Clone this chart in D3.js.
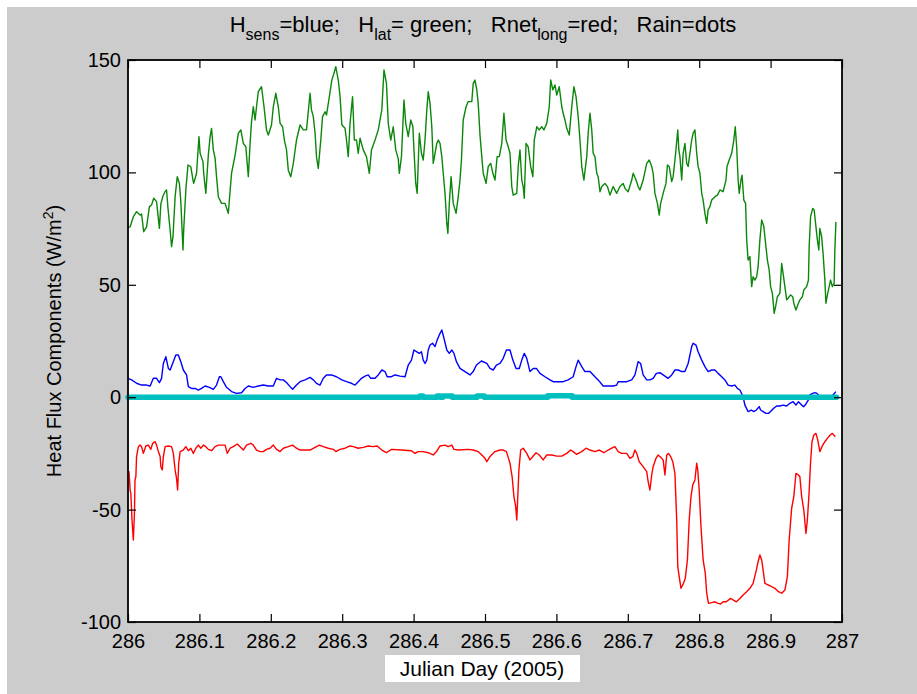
<!DOCTYPE html>
<html><head><meta charset="utf-8">
<script src="https://cdn.jsdelivr.net/npm/d3@7"></script>
<style>
html,body{margin:0;padding:0;background:#fff;}
svg{display:block;}
text{font-family:"Liberation Sans",Arial,Helvetica,sans-serif;fill:#000;}
</style></head><body>
<svg id="chart" width="917" height="694"></svg>
<script>
const xTicks = [286, 286.1, 286.2, 286.3, 286.4, 286.5, 286.6, 286.7, 286.8, 286.9, 287];
const yTicks = [-100, -50, 0, 50, 100, 150];

// H_lat (green)  [Julian day, W/m^2]
const hlat = [[286.000,75.5],[286.003,75.8],[286.0075,80.3],[286.012,82.5],[286.017,81],[286.019,81.5],[286.022,73.6],[286.026,75.8],[286.030,84.8],[286.033,85.5],[286.036,88.5],[286.040,87],[286.044,75.1],[286.046,86],[286.049,89.5],[286.052,91.5],[286.054,92.2],[286.056,84],[286.059,74.4],[286.061,67],[286.063,71.4],[286.066,89.2],[286.069,98.1],[286.072,95.1],[286.074,87],[286.077,65.5],[286.078,74.4],[286.081,92.2],[286.084,103.3],[286.088,102.5],[286.091,96.6],[286.092,95.1],[286.096,99.6],[286.0994,115.9],[286.101,108.5],[286.105,104.8],[286.106,99.6],[286.109,90.7],[286.1125,107.7],[286.115,115.9],[286.117,119.6],[286.1195,110],[286.122,106.3],[286.124,98.1],[286.1265,89.2],[286.131,86.2],[286.136,86.2],[286.1405,81.8],[286.145,99.6],[286.150,107.7],[286.1545,117.4],[286.158,118.9],[286.1615,112.9],[286.165,111.4],[286.1685,98.1],[286.171,112.9],[286.173,122.6],[286.1755,129.2],[286.178,123.3],[286.180,129.2],[286.1825,135.9],[286.187,138.1],[286.1905,129.2],[286.194,118.9],[286.1965,116.6],[286.201,121.1],[286.2035,129.2],[286.207,135.2],[286.2105,129.2],[286.213,121.8],[286.2165,120.3],[286.219,114.4],[286.222,110],[286.2245,101],[286.228,98.1],[286.2315,104],[286.236,114.4],[286.241,121.1],[286.2455,118.9],[286.250,118.9],[286.255,135.2],[286.257,127.8],[286.2595,124.8],[286.262,117.4],[286.264,107],[286.2665,101.8],[286.270,114.4],[286.2725,124.8],[286.276,127],[286.278,125.5],[286.282,133.7],[286.2855,141.1],[286.2885,144.1],[286.291,147],[286.2945,141.1],[286.297,133.7],[286.2995,121.1],[286.304,119.6],[286.306,114.4],[286.3085,107],[286.311,121.8],[286.3145,133.7],[286.317,114.4],[286.320,114.4],[286.3225,108.5],[286.325,115.2],[286.3295,110],[286.334,107],[286.338,99.6],[286.341,110],[286.346,114.4],[286.3505,118.9],[286.3555,127.8],[286.3585,145.6],[286.362,139.6],[286.3645,121.8],[286.368,114.4],[286.3715,120.3],[286.375,110],[286.3785,106],[286.380,99.6],[286.383,107],[286.3865,132.2],[286.389,121.8],[286.3925,115.9],[286.396,123.3],[286.399,120.3],[286.4005,110],[286.403,95.1],[286.405,90.7],[286.408,117.4],[286.411,108.5],[286.4135,105.5],[286.416,114.4],[286.4185,127.8],[286.4205,135.9],[286.423,130.7],[286.4255,120.3],[286.4275,104],[286.430,108.5],[286.4325,112.9],[286.4345,114.4],[286.437,112.9],[286.4395,107],[286.4415,99.6],[286.444,90.7],[286.4465,77.3],[286.448,72.9],[286.450,86.2],[286.4525,98.1],[286.4555,86.2],[286.4595,81.8],[286.4625,89.2],[286.465,96.6],[286.467,105.5],[286.4695,123.3],[286.4735,129.2],[286.4765,131.5],[286.4815,131.5],[286.4835,139.6],[286.486,141.1],[286.4885,136.7],[286.4905,130.7],[286.493,116.6],[286.4955,107],[286.4975,99.6],[286.5015,95.1],[286.5045,102.6],[286.508,104],[286.511,99.6],[286.514,96.6],[286.517,107],[286.520,107],[286.5235,112.9],[286.5265,126.3],[286.5295,114.4],[286.5325,111.4],[286.535,108.5],[286.5375,93.7],[286.5395,89.9],[286.5445,90.7],[286.5465,102.6],[286.549,110],[286.5515,96.6],[286.5535,93.7],[286.555,88.5],[286.5575,112.9],[286.5605,111.4],[286.564,102.6],[286.567,98.1],[286.569,114.4],[286.5725,120.3],[286.576,118.9],[286.5795,120.3],[286.5825,118.9],[286.5865,121.8],[286.590,129.2],[286.592,141.1],[286.595,136.7],[286.598,138.9],[286.6005,134.4],[286.604,138.1],[286.6075,129.2],[286.6095,126.3],[286.612,123.3],[286.6145,119.6],[286.618,116.6],[286.6215,129.2],[286.6245,138.1],[286.6275,133.7],[286.6305,124.8],[286.633,114.4],[286.6355,102.6],[286.6385,96.6],[286.6425,107],[286.6445,117.4],[286.647,126.3],[286.6495,118.9],[286.6515,108.5],[286.654,107],[286.6565,99.6],[286.6585,98.1],[286.661,91.4],[286.6635,93.7],[286.668,95.1],[286.6715,93.7],[286.675,89.9],[286.6795,93.7],[286.6845,90.7],[286.689,93.7],[286.6935,95.1],[286.696,92.9],[286.7005,91.4],[286.7055,96.6],[286.7075,99.6],[286.7115,96.6],[286.7145,93.7],[286.717,92.2],[286.7215,96.6],[286.7265,104],[286.730,105.5],[286.7335,102.6],[286.7355,99.6],[286.738,90.7],[286.7415,86.2],[286.744,81],[286.746,86.2],[286.7495,90.7],[286.7535,95.1],[286.7555,103.3],[286.758,102.6],[286.7615,95.9],[286.7635,98.1],[286.767,108.5],[286.770,118.9],[286.7715,110],[286.773,107],[286.7755,96.6],[286.7775,108.5],[286.780,112.9],[286.7825,104],[286.7845,102.6],[286.787,108.5],[286.7895,114.4],[286.7915,117.4],[286.794,118.9],[286.7965,108.5],[286.7985,102.6],[286.801,99.6],[286.8035,90.7],[286.8055,87.7],[286.808,81.8],[286.8105,77.3],[286.8125,83.3],[286.815,84.8],[286.8175,87.7],[286.822,89.2],[286.8255,89.9],[286.829,92.2],[286.8335,91.4],[286.8375,96.6],[286.839,102.6],[286.842,105.5],[286.8455,108.5],[286.8485,114.4],[286.8505,120.3],[286.8525,111.4],[286.8545,96.6],[286.856,90.7],[286.8585,96.6],[286.860,98.8],[286.8625,87.7],[286.865,86.2],[286.8665,70],[286.8685,61],[286.871,62.5],[286.8735,49.2],[286.8755,53.6],[286.878,52.1],[286.8805,53.6],[286.8825,58.1],[286.885,70],[286.8875,78.8],[286.8905,75.9],[286.8935,66.9],[286.8955,61],[286.898,56.6],[286.900,49.2],[286.9025,46.2],[286.905,37.3],[286.907,40.3],[286.9095,44.7],[286.913,46.2],[286.9155,59.5],[286.9175,55.1],[286.920,49.2],[286.9225,43.3],[286.9245,44],[286.928,45.5],[286.931,44.7],[286.9325,41.8],[286.9355,38.8],[286.939,41.8],[286.941,43.3],[286.9445,44.7],[286.9465,47.7],[286.9505,49.2],[286.953,52.1],[286.954,66.9],[286.956,80.3],[286.959,84],[286.961,83.3],[286.963,77.3],[286.9655,70],[286.9675,65.5],[286.969,75.1],[286.9715,71.4],[286.9735,64],[286.976,52.1],[286.9775,41.8],[286.980,46.2],[286.982,49.2],[286.984,52.1],[286.9865,49.2],[286.989,50.7],[286.990,65.7],[286.9915,78]];

// H_sens (blue)
const hsens = [[286.000,8.4],[286.005,7.7],[286.012,6.2],[286.019,5.4],[286.026,5.4],[286.031,5],[286.0355,8.4],[286.040,8.4],[286.044,6.5],[286.047,8.4],[286.0495,15],[286.053,18],[286.0565,12.8],[286.059,12.1],[286.0625,15],[286.067,18.8],[286.0705,18.8],[286.074,15.8],[286.0775,12.1],[286.082,9.9],[286.0845,4.7],[286.089,3.9],[286.094,3.9],[286.0985,3.2],[286.103,3.9],[286.108,5],[286.114,4.4],[286.1195,3.5],[286.124,5.4],[286.128,9.1],[286.130,9.1],[286.1335,6.9],[286.138,4.4],[286.145,2.5],[286.152,1.7],[286.159,2],[286.164,3.9],[286.1685,5],[286.1755,4.4],[286.1825,5],[286.1895,5.4],[286.1965,5],[286.2035,5],[286.208,8.4],[286.213,7.7],[286.2175,7.7],[286.222,6.5],[286.227,4.7],[286.2305,3.5],[286.236,5.4],[286.241,6.9],[286.248,7.7],[286.255,8.8],[286.2595,7.7],[286.264,6.2],[286.269,5.4],[286.2735,8.4],[286.278,9.9],[286.285,9.9],[286.292,9.1],[286.2995,7.7],[286.306,6.9],[286.313,6.2],[286.318,5.4],[286.3225,6.9],[286.327,8.4],[286.332,9.4],[286.3365,9.9],[286.340,8.4],[286.346,8.4],[286.3505,9.9],[286.3555,12.1],[286.360,11.4],[286.363,9.1],[286.369,9.1],[286.374,9.9],[286.381,9.4],[286.388,9.1],[286.3925,14.3],[286.397,16.5],[286.4005,21],[286.4045,20.2],[286.408,19.5],[286.411,20.2],[286.4135,16.5],[286.416,15],[286.4185,16.5],[286.4205,21],[286.423,23.2],[286.4265,24],[286.430,22.5],[286.433,25.4],[286.436,27.7],[286.4395,29.9],[286.442,26.9],[286.4465,21],[286.450,19.5],[286.4535,21],[286.4565,19.5],[286.460,15.8],[286.465,12.8],[286.472,11.4],[286.479,9.9],[286.4835,11.4],[286.488,14.3],[286.495,16.1],[286.5025,15],[286.507,12.8],[286.5115,12.1],[286.516,14.3],[286.521,15],[286.5255,17.3],[286.530,21],[286.535,21],[286.539,16.5],[286.5435,12.8],[286.548,12.8],[286.5515,16.5],[286.555,19.5],[286.5585,17.3],[286.563,11.4],[286.5675,12.8],[286.572,12.8],[286.577,10.6],[286.584,9.1],[286.591,7.7],[286.5955,6.9],[286.6025,6.9],[286.6095,6.9],[286.6165,7.7],[286.6235,9.1],[286.6275,13.6],[286.6305,16.5],[286.6355,13.6],[286.640,11.4],[286.647,11.4],[286.654,9.1],[286.6585,7.7],[286.6655,5],[286.6725,5],[286.6795,5],[286.6845,5.4],[286.6865,6.9],[286.6915,6.9],[286.6985,6.9],[286.7055,7.7],[286.710,9.9],[286.7145,15.8],[286.718,15],[286.7215,9.9],[286.7265,7.7],[286.731,7.7],[286.7355,8.4],[286.740,10.6],[286.745,10.9],[286.7495,9.9],[286.7565,8.4],[286.7615,9.9],[286.766,12.1],[286.7705,12.1],[286.7755,11.4],[286.780,11.4],[286.7845,15],[286.7895,22.5],[286.7915,24],[286.7955,23.2],[286.7985,20.2],[286.8035,16.5],[286.808,13.6],[286.8125,11.4],[286.8175,12.1],[286.822,12.1],[286.8265,10.6],[286.8315,9.1],[286.836,7.7],[286.8405,5.4],[286.8455,5],[286.850,5.4],[286.8535,3.9],[286.857,3.2],[286.8615,0.2],[286.864,-3.5],[286.8685,-6.4],[286.873,-5.7],[286.8765,-6.4],[286.880,-5.7],[286.884,-4.2],[286.886,-5.7],[286.8895,-6.4],[286.8935,-7.2],[286.897,-7.2],[286.900,-6.4],[286.904,-5],[286.9085,-3.9],[286.913,-3.9],[286.9175,-3.5],[286.9225,-3.9],[286.927,-2.7],[286.9315,-2],[286.9355,-3.5],[286.939,-2],[286.9435,-3.5],[286.9465,-4.2],[286.9495,-3],[286.953,-1.2],[286.955,1],[286.959,1.7],[286.962,2],[286.965,1.7],[286.969,0.2],[286.976,0.2],[286.983,0.2],[286.9875,1],[286.9915,2.5]];

// Rnet_long (red)
const rnetLong = [[286.000,-33.9],[286.0014,-33.1],[286.003,-41.3],[286.004,-42.8],[286.0056,-54.6],[286.0075,-63.5],[286.009,-51.7],[286.0098,-36.8],[286.011,-35.4],[286.012,-26.4],[286.0145,-22],[286.017,-21.3],[286.019,-22],[286.0215,-25],[286.025,-21.7],[286.0285,-21.3],[286.032,-23.2],[286.0345,-20.5],[286.038,-19.8],[286.040,-21.3],[286.0425,-24.2],[286.045,-26.4],[286.046,-30.9],[286.048,-32.4],[286.0495,-26.4],[286.052,-22],[286.0565,-21.7],[286.061,-22],[286.0635,-25],[286.066,-32.4],[286.068,-36.1],[286.0695,-41.3],[286.071,-29.4],[286.073,-24.2],[286.0775,-23.5],[286.081,-22],[286.0845,-23.8],[286.088,-22.7],[286.0915,-25],[286.095,-22.7],[286.0985,-21.3],[286.102,-22.7],[286.1055,-21.3],[286.109,-22],[286.1125,-23.2],[286.117,-23.8],[286.122,-22],[286.1265,-21.3],[286.136,-21.3],[286.139,-25],[286.143,-22.7],[286.1475,-22],[286.153,-20.8],[286.157,-22],[286.1615,-23.5],[286.166,-21.3],[286.172,-20.5],[286.1755,-21.3],[286.180,-23.5],[286.185,-24.2],[286.1895,-24.2],[286.194,-23.2],[286.199,-22.7],[286.2035,-21.3],[286.208,-23.2],[286.213,-24.2],[286.2175,-22.7],[286.2245,-22],[286.2305,-21.3],[286.236,-22.7],[286.241,-23.5],[286.255,-23.5],[286.262,-22.3],[286.268,-21.3],[286.2735,-22],[286.2805,-22.7],[286.2875,-23.2],[286.291,-24.2],[286.297,-23.2],[286.304,-22.7],[286.311,-21.7],[286.3155,-22],[286.3225,-22.7],[286.3295,-22.3],[286.3365,-21.7],[286.3435,-22],[286.349,-21.7],[286.3555,-23.5],[286.362,-24.7],[286.369,-23.2],[286.383,-23.5],[286.397,-23.8],[286.402,-25],[286.4065,-24.2],[286.4135,-24.2],[286.4205,-24.7],[286.4275,-25.7],[286.432,-24.2],[286.437,-21.7],[286.444,-21.3],[286.4485,-22],[286.4535,-21.3],[286.4565,-23.2],[286.4625,-23.5],[286.4765,-23.2],[286.4835,-23.5],[286.4905,-24.2],[286.4955,-25.7],[286.500,-27.2],[286.5025,-28.7],[286.507,-26.4],[286.514,-24.2],[286.521,-23.5],[286.5255,-23.5],[286.530,-24.2],[286.535,-29.4],[286.538,-35.4],[286.5405,-44.2],[286.543,-48.7],[286.5445,-54.6],[286.5455,-47.2],[286.5475,-32.4],[286.550,-23.5],[286.5535,-22.7],[286.5585,-25],[286.563,-27.9],[286.567,-26.4],[286.5715,-24.7],[286.576,-25.7],[286.5815,-27.9],[286.5865,-25.7],[286.5935,-25.7],[286.6005,-26.2],[286.6075,-26.2],[286.6145,-25],[286.620,-23.5],[286.6235,-24.2],[286.628,-25.4],[286.6355,-24.2],[286.6415,-22.7],[286.647,-23.5],[286.654,-24.2],[286.660,-23.5],[286.6665,-24.7],[286.6725,-23.5],[286.6775,-22.7],[286.682,-22],[286.6865,-24.2],[286.6915,-25],[286.6985,-25],[286.703,-27.2],[286.707,-26.4],[286.710,-23.5],[286.7125,-25],[286.716,-28.7],[286.7215,-30.9],[286.7265,-33.1],[286.7285,-37.6],[286.731,-41.3],[286.7335,-34.6],[286.7355,-30.9],[286.7395,-27.2],[286.7425,-25.7],[286.7475,-27.2],[286.7495,-27.9],[286.752,-34.6],[286.7545,-25.7],[286.757,-25],[286.760,-26.4],[286.763,-28.7],[286.766,-33.9],[286.7685,-54.6],[286.770,-75.4],[286.772,-79.8],[286.7745,-85],[286.778,-82.8],[286.7805,-80.6],[286.7835,-72.4],[286.786,-54.6],[286.7885,-44.2],[286.791,-39],[286.794,-36.8],[286.7965,-29.4],[286.798,-32.4],[286.800,-41.3],[286.8025,-57.6],[286.8055,-72.4],[286.8085,-78.3],[286.8105,-87.2],[286.813,-91.7],[286.8175,-91.4],[286.822,-91],[286.8265,-91.7],[286.830,-92],[286.8335,-91],[286.838,-91],[286.844,-89.5],[286.8475,-90.2],[286.852,-91],[286.857,-89.5],[286.8615,-88],[286.8665,-86.5],[286.871,-85],[286.8755,-82.8],[286.8795,-77.6],[286.8825,-73.2],[286.885,-70.2],[286.8875,-72.4],[286.8895,-76.9],[286.892,-82.8],[286.8965,-83.5],[286.9015,-84.3],[286.906,-85],[286.911,-86.5],[286.9155,-87.2],[286.920,-85.8],[286.9235,-79.8],[286.926,-63.5],[286.9295,-49.4],[286.9325,-44.2],[286.9355,-33.9],[286.939,-34.6],[286.941,-35.4],[286.9435,-44.2],[286.9465,-50.2],[286.9495,-60.6],[286.9515,-54.6],[286.954,-42],[286.956,-28.7],[286.958,-19.8],[286.9605,-16.8],[286.9635,-16.1],[286.966,-19],[286.969,-24.2],[286.973,-21.3],[286.976,-19.8],[286.9795,-18.3],[286.9835,-16.8],[286.9865,-16.1],[286.9905,-17.6]];

// Rain (cyan dots)
const rain = [[286.000,0],[286.409,0],[286.409,0.5],[286.413,0.5],[286.413,0],[286.433,0],[286.433,0.5],[286.437,0.5],[286.437,0],[286.441,0],[286.441,0.5],[286.454,0.5],[286.454,0],[286.489,0],[286.489,0.5],[286.499,0.5],[286.499,0],[286.588,0],[286.588,0.6],[286.622,0.6],[286.622,0],[286.9925,0]];

const W = 917, H = 694;
const svg = d3.select('#chart');
svg.append('rect').attr('width', W).attr('height', H).attr('fill', '#ffffff');
svg.append('rect').attr('x', 7).attr('y', 7).attr('width', W - 7).attr('height', H - 7).attr('fill', '#cccccc');

const x = d3.scaleLinear().domain([286, 287]).range([128, 842]);
const y = d3.scaleLinear().domain([-100, 150]).range([622, 60]);

svg.append('rect').attr('x', x(286)).attr('y', y(150))
  .attr('width', x(287) - x(286)).attr('height', y(-100) - y(150)).attr('fill', '#fff');

const line = d3.line().x(d => x(d[0])).y(d => y(d[1]));
const series = [
  {data: hlat, color: '#0a870a', w: 1.4},
  {data: hsens, color: '#0000ff', w: 1.4},
  {data: rnetLong, color: '#ff0000', w: 1.4}
];
series.forEach(s => {
  svg.append('path').datum(s.data).attr('d', line)
    .attr('fill', 'none').attr('stroke', s.color).attr('stroke-width', s.w)
    .attr('stroke-linejoin', 'round');
});
svg.append('path').datum(rain).attr('d', line)
  .attr('fill', 'none').attr('stroke', '#00bfbf').attr('stroke-width', 5.5)
  .attr('stroke-linecap', 'round').attr('stroke-linejoin', 'round');

function styleAxis(g) {
  g.select('.domain').remove();
  g.attr('font-family', null).attr('font-size', null);
  g.selectAll('.tick line').attr('stroke', '#000').attr('stroke-width', 1.2);
  g.selectAll('.tick text').style('font-size', '20px').attr('fill', '#000');
}
const fmt = d => String(d);
svg.append('g').attr('transform', `translate(0,${y(-100)})`)
  .call(d3.axisBottom(x).tickValues(xTicks).tickFormat(fmt).tickSizeInner(-8).tickSizeOuter(0).tickPadding(12))
  .call(styleAxis);
svg.append('g').attr('transform', `translate(0,${y(150)})`)
  .call(d3.axisTop(x).tickValues(xTicks).tickFormat('').tickSizeInner(-8).tickSizeOuter(0))
  .call(styleAxis);
svg.append('g').attr('transform', `translate(${x(286)},0)`)
  .call(d3.axisLeft(y).tickValues(yTicks).tickFormat(fmt).tickSizeInner(-8).tickSizeOuter(0).tickPadding(7))
  .call(styleAxis);
svg.append('g').attr('transform', `translate(${x(287)},0)`)
  .call(d3.axisRight(y).tickValues(yTicks).tickFormat('').tickSizeInner(-8).tickSizeOuter(0))
  .call(styleAxis);

svg.append('rect').attr('x', x(286)).attr('y', y(150))
  .attr('width', x(287) - x(286)).attr('height', y(-100) - y(150))
  .attr('fill', 'none').attr('stroke', '#000').attr('stroke-width', 1.8);

// Title
const title = svg.append('text').attr('x', 483).attr('y', 32)
  .attr('text-anchor', 'middle').style('font-size', '22px').style('white-space', 'pre');
const parts = [['H',0],['sens',1],['=blue;   H',0],['lat',1],['= green;   Rnet',0],['long',1],['=red;   Rain=dots',0]];
let prevSub = 0;
parts.forEach(([t, sub]) => {
  const dy = (sub - prevSub) * 8;
  const ts = title.append('tspan').text(t);
  if (dy) ts.attr('dy', dy);
  if (sub) ts.style('font-size', '16px');
  prevSub = sub;
});

// Y label
const yl = svg.append('text').attr('transform', 'translate(61,341) rotate(-90)')
  .attr('text-anchor', 'middle').style('font-size', '20px');
yl.append('tspan').text('Heat Flux Components (W/m');
yl.append('tspan').text('2').attr('dy', -8).style('font-size', '14px');
yl.append('tspan').text(')').attr('dy', 8);

// X label
svg.append('rect').attr('x', 385).attr('y', 655).attr('width', 195).attr('height', 27).attr('fill', '#fff');
svg.append('text').attr('x', 482).attr('y', 676).attr('text-anchor', 'middle')
  .style('font-size', '21px').text('Julian Day (2005)');
</script>
</body></html>
